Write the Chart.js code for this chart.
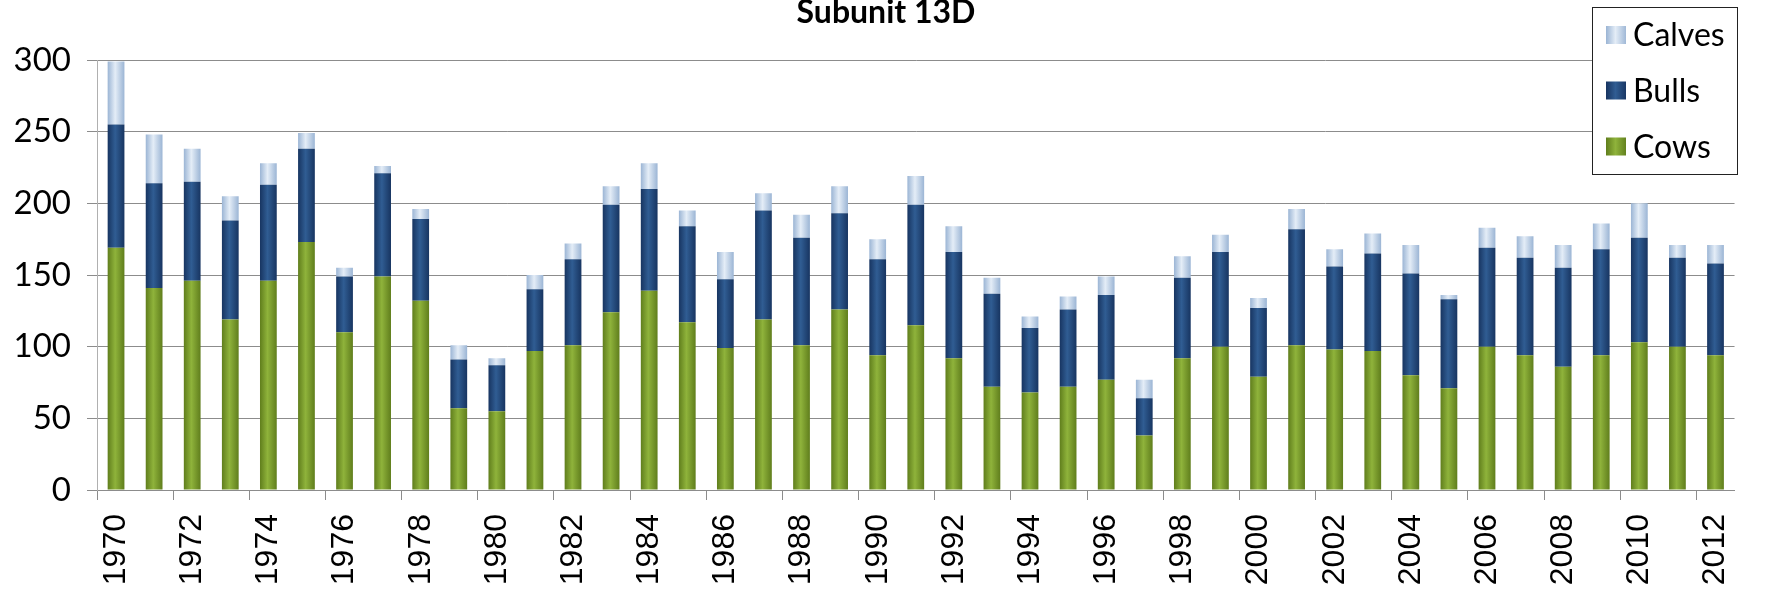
<!DOCTYPE html>
<html>
<head>
<meta charset="utf-8">
<script src="https://cdn.jsdelivr.net/npm/chart.js@4.4.1/dist/chart.umd.min.js"></script>
<style>
html,body{margin:0;padding:0;background:#fff;}
#wrap{position:relative;width:1768px;height:591px;overflow:hidden;}
canvas{display:block;}
</style>
</head>
<body>
<div id="wrap"><canvas id="c" width="1768" height="591"></canvas></div>
<script>
const chartTitle = "Subunit 13D";
const years = ["1970","1971","1972","1973","1974","1975","1976","1977","1978","1979","1980","1981","1982","1983","1984","1985","1986","1987","1988","1989","1990","1991","1992","1993","1994","1995","1996","1997","1998","1999","2000","2001","2002","2003","2004","2005","2006","2007","2008","2009","2010","2011","2012"];
const cows   = [169,141,146,119,146,173,110,149,132,57,55,97,101, 124,139,117,99,119,101,126,94,115,92,72,68,72,77,38, 92,100,79,101,98,97,80,71,100,94,86,94,103,100,94];
const bulls  = [86,73,69,69,67,65,39,72,57,34,32,43,60, 75,71,67,48,76,75,67,67,84,74,65,45,54,59,26, 56,66,48,81,58,68,71,62,69,68,69,74,73,62,64];
const calves = [44,34,23,17,15,11,6,5,7,10,5,10,11, 13,18,11,19,12,16,19,14,20,18,11,8,9,13,13, 15,12,7,14,12,14,20,3,14,15,16,18,24,9,13];
const yTicks = [0,50,100,150,200,250,300];

const palette = {
  Cows:   {edge:'#5f7d1c', mid:'#8fb33b', solid:'#7c9c2c'},
  Bulls:  {edge:'#173460', mid:'#305d93', solid:'#254a7c'},
  Calves: {edge:'#9ab4d4', mid:'#e4edf7', solid:'#bfd2e8'}
};

function barFill(name){
  return function(ctx){
    const chart = ctx.chart;
    const xs = chart.scales && chart.scales.x;
    const p = palette[name];
    if (!xs || typeof ctx.dataIndex !== 'number') return p.solid;
    const cx = xs.getPixelForValue(ctx.dataIndex);
    if (!isFinite(cx)) return p.solid;
    const hw = 8.5;
    const g = chart.ctx.createLinearGradient(cx - hw, 0, cx + hw, 0);
    g.addColorStop(0, p.edge);
    g.addColorStop(0.45, p.mid);
    g.addColorStop(1, p.edge);
    return g;
  };
}

const extras = {
  id: 'extras',
  afterDraw(chart){
    const c = chart.ctx;
    c.save();
    c.fillStyle = '#000';
    c.font = 'bold 32px Lato, "Open Sans", sans-serif';
    c.textAlign = 'center';
    c.textBaseline = 'alphabetic';
    c.fillText(chartTitle, 886, 23);
    const bx = 1592.5, by = 7.5, bw = 145, bh = 167;
    c.fillStyle = '#fff';
    c.fillRect(bx, by, bw, bh);
    c.strokeStyle = '#222';
    c.lineWidth = 1;
    c.strokeRect(bx, by, bw, bh);
    const items = chart.data.datasets.slice().reverse();
    const ys = [35, 90.5, 146.5];
    c.font = '32px Lato, "Open Sans", sans-serif';
    c.textAlign = 'left';
    c.textBaseline = 'middle';
    items.forEach((ds, i) => {
      const p = palette[ds.label];
      const g = c.createLinearGradient(1606, 0, 1627, 0);
      g.addColorStop(0, p.edge); g.addColorStop(0.45, p.mid); g.addColorStop(1, p.edge);
      c.fillStyle = g;
      c.fillRect(1606, ys[i] - 9, 20, 18);
      c.fillStyle = '#000';
      c.fillText(ds.label, 1633, ys[i] + 1);
    });
    c.restore();
  }
};

new Chart(document.getElementById('c'), {
  type: 'bar',
  data: {
    labels: years,
    datasets: [
      {label: 'Cows', data: cows, backgroundColor: barFill('Cows'), stack: 's'},
      {label: 'Bulls', data: bulls, backgroundColor: barFill('Bulls'), stack: 's'},
      {label: 'Calves', data: calves, backgroundColor: barFill('Calves'), stack: 's'}
    ]
  },
  options: {
    responsive: false,
    animation: false,
    devicePixelRatio: 1,
    layout: {padding: {top: 60, right: 8.5, left: 0, bottom: 0}},
    datasets: {bar: {categoryPercentage: 1.0, barPercentage: 0.44}},
    plugins: {legend: {display: false}, title: {display: false}, tooltip: {enabled: false}},
    scales: {
      x: {
        stacked: true,
        offset: true,
        grid: {
          display: true,
          offset: true,
          drawOnChartArea: false,
          drawTicks: true,
          tickLength: 10,
          color: (ctx) => (ctx.index % 2 === 0 ? '#8c8c8c' : 'rgba(0,0,0,0)')
        },
        border: {display: true, color: '#8c8c8c', width: 1},
        ticks: {
          autoSkip: false,
          minRotation: 90,
          maxRotation: 90,
          padding: 14,
          color: '#000',
          font: {family: '"Liberation Sans", Arial, sans-serif', size: 32},
          callback: function(v, i){ return i % 2 === 0 ? years[i] : ''; }
        },
        afterFit: (s) => { s.height = 101; }
      },
      y: {
        stacked: true,
        min: 0,
        max: 300,
        afterBuildTicks: (s) => { s.ticks = yTicks.map(v => ({value: v})); },
        grid: {color: '#8c8c8c', tickLength: 10, lineWidth: 1},
        border: {display: true, color: '#b0b0b0', width: 1},
        ticks: {
          padding: 16,
          color: '#000',
          font: {family: 'Lato, "Open Sans", sans-serif', size: 33}
        },
        afterFit: (s) => { s.width = 97; }
      }
    }
  },
  plugins: [extras]
});
</script>
</body>
</html>
